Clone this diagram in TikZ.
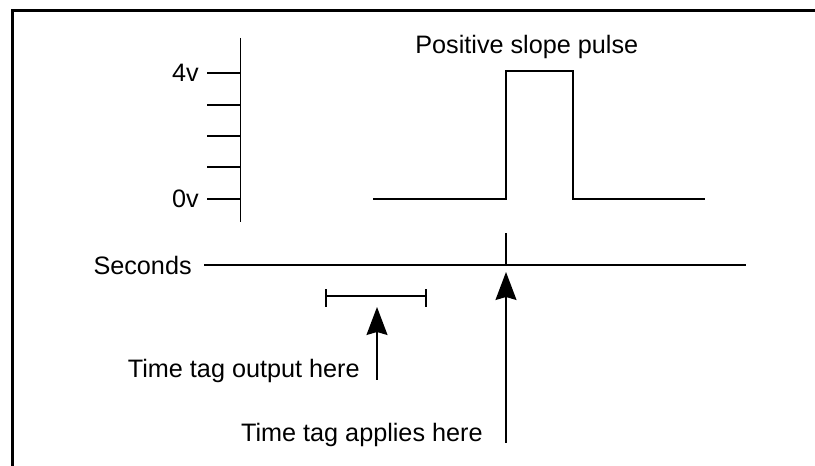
\documentclass[tikz,border=0pt]{standalone}
\usepackage{fontspec}
\setmainfont{Liberation Sans}
\usepackage{tikz}
\usetikzlibrary{arrows.meta}
\definecolor{TTInk}{HTML}{000000}

\begin{document}
\begin{tikzpicture}[x=1cm,y=1cm,
  trace/.style={TTInk,line width=0.026cm},
  frameline/.style={TTInk,line width=0.06cm},
  tagarrow/.style={trace,-{Stealth[length=0.56cm,width=0.42cm,inset=0.06cm]}},
  lbl/.style={inner sep=0pt,font=\fontsize{14.35}{17}\selectfont,text=TTInk}]
\path[use as bounding box] (0,0) rectangle (16.30,9.32);
\draw[frameline] (0.25,-0.10) -- (0.25,9.11) -- (16.40,9.11);
\draw[trace] (4.81,8.56) -- (4.81,4.88);
\foreach \y in {7.86,7.22,6.60,5.98,5.34}
  \draw[trace] (4.14,\y) -- (4.81,\y);
\node[lbl,anchor=base east] (volt4) at (3.98,7.68) {4v};
\node[lbl,anchor=base east] (volt0) at (3.98,5.16) {0v};
\draw[trace] (7.46,5.34) -- (10.12,5.34) -- (10.12,7.90) -- (11.46,7.90) -- (11.46,5.34) -- (14.10,5.34);
\node[lbl,anchor=base west] (pulse) at (8.30,8.24) {Positive slope pulse};
\node[lbl,anchor=base east] (secs) at (3.84,3.82) {Seconds};
\draw[trace] (4.08,4.02) -- (14.92,4.02);
\coordinate (edge) at (10.12,4.02);
\draw[trace] (edge) -- ++(0,0.64);
\coordinate (barL) at (6.52,3.40);
\coordinate (barR) at (8.52,3.40);
\draw[trace] (barL) -- (barR);
\draw[trace] ([yshift=0.13cm]barL) -- ([yshift=-0.22cm]barL);
\draw[trace] ([yshift=0.13cm]barR) -- ([yshift=-0.22cm]barR);
\node[lbl,anchor=base east] (outtxt) at (7.20,1.76) {Time tag output here};
\coordinate (outtail) at (7.54,1.72);
\coordinate (outtip) at (7.54,3.18);
\draw[tagarrow] (outtail) -- (outtip);
\node[lbl,anchor=base east] (applytxt) at (9.66,0.48) {Time tag applies here};
\coordinate (applytail) at (10.12,0.46);
\draw[tagarrow] (applytail) -- ([yshift=-0.14cm]edge);
\end{tikzpicture}
\end{document}
